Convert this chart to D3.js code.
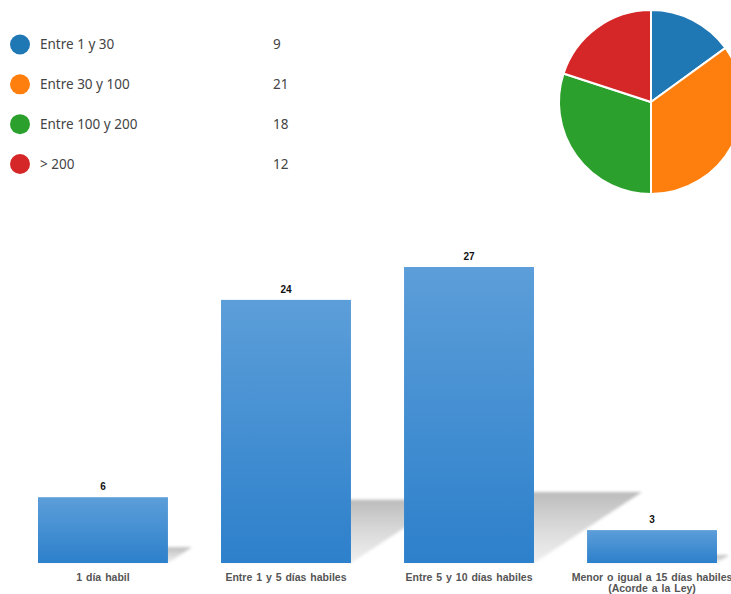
<!DOCTYPE html>
<html>
<head>
<meta charset="utf-8">
<script src="https://cdn.jsdelivr.net/npm/d3@7"></script>
<style>
  html, body { margin: 0; padding: 0; background: #fff; overflow: hidden; }
  svg { display: block; }
</style>
</head>
<body>
<svg id="chart" width="731" height="594"></svg>
<script>
// Distribution by range (legend + pie)
const rangeLabels = ["Entre 1 y 30", "Entre 30 y 100", "Entre 100 y 200", "> 200"];
const rangeValues = [9, 21, 18, 12];
const rangeColors = ["#1f77b4", "#ff7f0e", "#2ca02c", "#d62728"];

// Response time (bar chart)
const timeLabels = [
  ["1 día habil"],
  ["Entre 1 y 5 días habiles"],
  ["Entre 5 y 10 días habiles"],
  ["Menor o igual a 15 días habiles", "(Acorde a la Ley)"]
];
const timeValues = [6, 24, 27, 3];

const svg = d3.select("#chart");
const defs = svg.append("defs");

// ---------- Legend ----------
const legend = svg.append("g");
const legendY = d3.scalePoint().domain(rangeLabels).range([44.5, 164]);
const rows = legend.selectAll("g.row")
  .data(rangeLabels.map((l, i) => ({ label: l, value: rangeValues[i], color: rangeColors[i] })))
  .join("g")
  .attr("class", "row")
  .attr("transform", d => `translate(0,${legendY(d.label)})`);
rows.append("circle").attr("cx", 20).attr("cy", 0).attr("r", 10).attr("fill", d => d.color);
rows.append("text")
  .attr("x", 40).attr("y", 0).attr("dy", "0.35em")
  .attr("font-family", "'Noto Sans', 'Open Sans', sans-serif")
  .attr("font-size", 13.5).attr("fill", "#444")
  .text(d => d.label);
rows.append("text")
  .attr("x", 273).attr("y", 0).attr("dy", "0.35em")
  .attr("font-family", "'Noto Sans', 'Open Sans', sans-serif")
  .attr("font-size", 13.5).attr("fill", "#444")
  .text(d => d.value);

// ---------- Pie ----------
const pie = d3.pie().sort(null).value(d => d)(rangeValues);
const arc = d3.arc().innerRadius(0).outerRadius(92);
svg.append("g")
  .attr("transform", "translate(651,102)")
  .selectAll("path")
  .data(pie)
  .join("path")
  .attr("d", arc)
  .attr("fill", (d, i) => rangeColors[i])
  .attr("stroke", "#fff")
  .attr("stroke-width", 2);

// ---------- Bar chart ----------
const baseY = 563;
const x = d3.scaleBand()
  .domain(d3.range(timeValues.length))
  .range([38, 717])
  .paddingInner(0.29)
  .paddingOuter(0);
const y = d3.scaleLinear().domain([0, 27]).range([baseY, 267]);

const barGrad = defs.append("linearGradient")
  .attr("id", "barGrad").attr("x1", 0).attr("y1", 0).attr("x2", 0).attr("y2", 1);
barGrad.append("stop").attr("offset", "0%").attr("stop-color", "#5c9ed9");
barGrad.append("stop").attr("offset", "100%").attr("stop-color", "#2d80cb");

const shadowGrad = defs.append("linearGradient")
  .attr("id", "shadowGrad").attr("x1", 0).attr("y1", 0).attr("x2", 0).attr("y2", 1);
shadowGrad.append("stop").attr("offset", "0%").attr("stop-color", "#bbbbbb").attr("stop-opacity", 1);
shadowGrad.append("stop").attr("offset", "100%").attr("stop-color", "#d6d6d6").attr("stop-opacity", 0.4);

const blur = defs.append("filter").attr("id", "soft")
  .attr("x", "-20%").attr("y", "-20%").attr("width", "140%").attr("height", "140%");
blur.append("feGaussianBlur").attr("stdDeviation", 1.6);

// Cast shadows: each bar flattened and sheared to the right along the floor
const shadowScale = 0.24, shear = 1.52;
svg.append("g").attr("filter", "url(#soft)")
  .selectAll("path")
  .data(timeValues)
  .join("path")
  .attr("fill", "url(#shadowGrad)")
  .attr("d", (v, i) => {
    const h = (baseY - y(v)) * shadowScale;
    const s = h * shear;
    const x0 = x(i), x1 = x(i) + x.bandwidth();
    return `M${x0},${baseY}L${x1},${baseY}L${x1 + s},${baseY - h}L${x0 + s},${baseY - h}Z`;
  });

svg.append("g")
  .selectAll("rect")
  .data(timeValues)
  .join("rect")
  .attr("x", (v, i) => x(i))
  .attr("y", v => y(v))
  .attr("width", x.bandwidth())
  .attr("height", v => baseY - y(v))
  .attr("fill", "url(#barGrad)");

// Value labels
svg.append("g")
  .selectAll("text")
  .data(timeValues)
  .join("text")
  .attr("x", (v, i) => x(i) + x.bandwidth() / 2)
  .attr("y", v => y(v) - 7)
  .attr("text-anchor", "middle")
  .attr("font-family", "'Liberation Sans', Arial, sans-serif")
  .attr("font-weight", "bold")
  .attr("font-size", 10)
  .attr("fill", "#111")
  .text(v => v);

// Category labels
const cat = svg.append("g")
  .selectAll("text")
  .data(timeLabels)
  .join("text")
  .attr("x", (d, i) => x(i) + x.bandwidth() / 2)
  .attr("y", 581)
  .attr("text-anchor", "middle")
  .attr("font-family", "'Liberation Sans', Arial, sans-serif")
  .attr("font-weight", "bold")
  .attr("font-size", 10.5)
  .attr("word-spacing", 1)
  .attr("fill", "#555");
cat.selectAll("tspan")
  .data(d => d)
  .join("tspan")
  .attr("x", function () { return d3.select(this.parentNode).attr("x"); })
  .attr("dy", (d, j) => j === 0 ? 0 : 11)
  .text(d => d);
</script>
</body>
</html>
